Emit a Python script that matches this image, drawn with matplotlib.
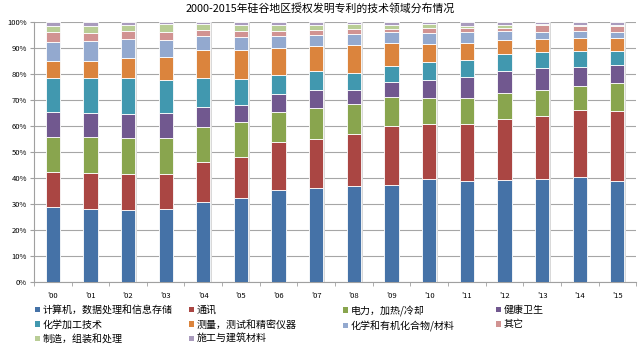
import numpy as np
import matplotlib.pyplot as plt
from matplotlib.patches import Patch

plt.rcParams['font.family'] = ['Noto Sans CJK SC', 'DejaVu Sans']

# data (percent share per year)
years = ["'00", "'01", "'02", "'03", "'04", "'05", "'06", "'07",
         "'08", "'09", "'10", "'11", "'12", "'13", "'14", "'15"]
categories = ['计算机，数据处理和信息存储', '通讯', '电力，加热/冷却', '健康卫生',
              '化学加工技术', '测量，测试和精密仪器', '化学和有机化合物/材料', '其它',
              '制造，组装和处理', '施工与建筑材料']
computer = [28.7, 28.3, 27.9, 28.3, 30.8, 32.5, 35.6, 36.1, 37.1, 37.5, 39.6, 38.8, 39.1, 39.8, 40.4, 38.8]
telecom = [13.5, 13.6, 13.5, 13.1, 15.5, 15.7, 18.4, 18.9, 19.9, 22.5, 21.2, 21.9, 23.6, 24.1, 25.7, 27.0]
power = [13.7, 13.8, 13.9, 13.9, 13.5, 13.2, 11.6, 12.1, 11.6, 11.1, 9.9, 10.0, 10.1, 9.9, 9.3, 10.8]
health = [9.7, 9.2, 9.2, 9.9, 7.7, 6.7, 6.6, 6.6, 5.4, 6.0, 7.1, 8.1, 8.4, 8.5, 7.4, 6.9]
chem_proc = [12.8, 13.5, 13.9, 12.6, 10.9, 9.9, 7.4, 7.3, 6.5, 6.1, 7.0, 6.7, 6.5, 6.1, 6.1, 5.2]
measure = [6.6, 6.8, 7.7, 8.7, 10.8, 11.2, 10.4, 9.6, 10.5, 8.7, 6.7, 6.3, 5.5, 5.2, 4.9, 5.1]
chem_org = [7.2, 7.5, 7.3, 6.6, 5.4, 5.1, 4.5, 4.4, 4.4, 4.2, 4.3, 4.3, 3.5, 2.5, 2.7, 2.3]
other = [3.8, 3.1, 3.0, 3.0, 2.4, 2.1, 1.9, 1.8, 2.0, 1.2, 1.9, 1.5, 1.2, 2.6, 1.8, 2.2]
manufact = [2.3, 2.5, 2.3, 3.1, 2.2, 2.3, 2.3, 2.2, 1.8, 1.7, 1.5, 1.0, 1.1, 0.5, 0.7, 0.7]
construct = [1.7, 1.7, 1.3, 0.8, 0.8, 1.3, 1.3, 1.0, 0.8, 1.0, 0.8, 1.4, 1.0, 0.8, 1.0, 1.0]
series = [computer, telecom, power, health, chem_proc, measure, chem_org, other, manufact, construct]

colors = ['#4572A7', '#AA4643', '#89A54E', '#71588F', '#4198AF',
          '#DB843D', '#93A9CF', '#D19392', '#B9CD96', '#A99BBD']

fig = plt.figure(figsize=(6.4, 3.5), dpi=100)
ax = fig.add_axes([0.053, 0.194, 0.941, 0.743])

x = np.arange(len(years))
vals = np.array(series, dtype=float)
vals = vals / vals.sum(axis=0) * 100
bottom = np.zeros(len(years))
for v, c in zip(vals, colors):
    # faint shadow behind each bar, like the original
    ax.bar(x + 0.04, v, 0.38, bottom=bottom, color='#D9D9D9', linewidth=0, zorder=2)
    ax.bar(x, v, 0.38, bottom=bottom, color=c, edgecolor='white', linewidth=0.6, zorder=3)
    bottom += v

ax.set_xlim(-0.5, len(years) - 0.5)
ax.set_ylim(0, 100)
ax.set_yticks(np.arange(0, 101, 10))
ax.set_yticklabels([f'{t}%' for t in range(0, 101, 10)], fontsize=5.5)
ax.set_xticks(x)
ax.set_xticklabels(years, fontsize=5.5)
ax.set_xticks(np.arange(-0.5, len(years), 1), minor=True)
ax.tick_params(axis='x', which='major', length=0, pad=7)
ax.tick_params(axis='x', which='minor', length=3, color='#A0A0A0')
ax.tick_params(axis='y', length=3, color='#A0A0A0', pad=2)
ax.grid(axis='y', color='#A6A6A6', linewidth=0.8, zorder=0)
for s in ['top', 'right']:
    ax.spines[s].set_visible(False)
for s in ['left', 'bottom']:
    ax.spines[s].set_color('#A0A0A0')
    ax.spines[s].set_linewidth(0.8)

fig.text(0.5, 1 - 8 / 350, '2000-2015年硅谷地区授权发明专利的技术领域分布情况',
         ha='center', va='center', fontsize=7.8)

# legend, four columns placed like the original
col_x = [35, 189, 343, 496]
for c in range(4):
    idx = list(range(c, len(categories), 4))
    handles = [Patch(facecolor=colors[i], edgecolor='none') for i in idx]
    fig.legend(handles, [categories[i] for i in idx], loc='upper left',
               bbox_to_anchor=(col_x[c] / 640, 1 - 305 / 350), frameon=False,
               fontsize=7.2, handlelength=0.45, handleheight=0.45,
               handletextpad=0.3, labelspacing=0.45, borderpad=0, borderaxespad=0)

plt.savefig('out.png', dpi=100)
